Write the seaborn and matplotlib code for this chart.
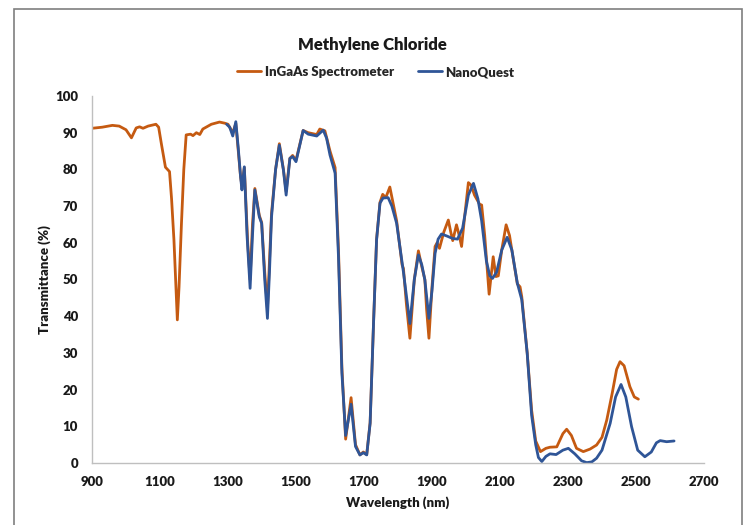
import matplotlib
matplotlib.use("Agg")
import matplotlib.pyplot as plt
import seaborn as sns
import pandas as pd
from matplotlib.patches import Rectangle
from matplotlib.lines import Line2D

# ---------------- data ----------------
ingaas_nm = [900, 930, 960, 980, 1000, 1016, 1030, 1040, 1050, 1065, 1088, 1096, 1104, 1116, 1128, 1134,
             1141, 1146, 1151, 1156, 1163, 1170, 1177, 1190, 1197, 1207, 1217, 1226, 1251, 1275, 1290, 1300,
             1314, 1323, 1337, 1341, 1348, 1358, 1365, 1372, 1379, 1392, 1399, 1408, 1416, 1422, 1428, 1440,
             1451, 1463, 1471, 1482, 1490, 1500, 1521, 1536, 1561, 1570, 1585, 1600, 1615, 1625, 1635, 1646,
             1662, 1675, 1688, 1698, 1708, 1718, 1728, 1737, 1747, 1755, 1764, 1776, 1796, 1812, 1816, 1825,
             1835, 1848, 1860, 1870, 1879, 1884, 1891, 1900, 1909, 1915, 1922, 1935, 1948, 1955, 1961, 1972,
             1980, 1987, 1997, 2007, 2015, 2025, 2040, 2046, 2055, 2068, 2075, 2080, 2088, 2095, 2105, 2118,
             2128, 2140, 2151, 2159, 2164, 2180, 2193, 2205, 2219, 2235, 2247, 2267, 2285, 2296, 2310, 2325,
             2345, 2365, 2384, 2400, 2414, 2430, 2443, 2453, 2465, 2482, 2495, 2507]
ingaas_t = [91.2, 91.5, 92.0, 91.8, 90.8, 88.6, 91.3, 91.6, 91.2, 91.8, 92.3, 91.5, 87.0, 80.6, 79.4, 72.0,
            60.8, 50.0, 39.0, 48.0, 65.0, 80.0, 89.4, 89.6, 89.2, 90.0, 89.5, 91.0, 92.3, 92.9, 92.6, 92.3,
            90.0, 92.5, 78.0, 75.5, 80.5, 60.0, 50.0, 65.0, 74.8, 67.5, 65.5, 52.0, 42.0, 55.0, 68.0, 80.0,
            87.0, 80.0, 74.0, 83.0, 83.8, 82.5, 90.6, 90.0, 89.5, 91.0, 90.5, 85.0, 80.5, 58.0, 26.0, 6.5,
            17.8, 5.0, 2.2, 3.0, 2.3, 11.0, 38.0, 61.0, 71.0, 73.2, 72.3, 75.2, 66.0, 54.0, 53.0, 43.0,
            34.0, 50.0, 57.8, 53.5, 50.0, 42.0, 34.0, 48.0, 59.0, 60.0, 58.5, 63.0, 66.2, 63.0, 60.6, 64.9,
            62.0, 59.0, 68.0, 76.4, 75.7, 73.0, 70.5, 70.3, 62.0, 46.0, 52.0, 56.2, 50.8, 51.0, 58.0, 64.9,
            62.0, 55.0, 48.8, 48.0, 45.3, 30.0, 14.4, 6.0, 3.1, 4.0, 4.3, 4.4, 8.0, 9.2, 7.5, 4.0,
            3.1, 3.8, 4.9, 7.0, 11.7, 19.0, 25.5, 27.6, 26.5, 20.8, 18.0, 17.4]

nano_nm = [1296, 1305, 1314, 1323, 1330, 1337, 1341, 1348, 1356, 1365, 1372, 1379, 1392, 1399, 1408, 1416,
           1422, 1428, 1440, 1451, 1463, 1471, 1482, 1490, 1500, 1521, 1536, 1561, 1580, 1590, 1600, 1615,
           1625, 1635, 1646, 1662, 1675, 1688, 1698, 1708, 1718, 1728, 1737, 1747, 1756, 1771, 1782, 1796,
           1816, 1835, 1848, 1860, 1870, 1879, 1891, 1900, 1909, 1918, 1928, 1945, 1960, 1975, 1990, 2007,
           2022, 2035, 2046, 2060, 2070, 2078, 2090, 2105, 2121, 2135, 2151, 2164, 2180, 2193, 2205, 2213,
           2223, 2235, 2247, 2265, 2285, 2301, 2320, 2340, 2355, 2370, 2384, 2400, 2424, 2440, 2456, 2470,
           2487, 2505, 2526, 2545, 2560, 2571, 2590, 2612]
nano_t = [92.3, 91.5, 89.1, 93.0, 86.0, 78.0, 74.4, 80.7, 62.0, 47.6, 62.0, 74.4, 67.1, 65.3, 50.0, 39.4,
          52.0, 67.0, 80.0, 86.6, 79.8, 73.0, 83.0, 83.5, 82.1, 90.6, 89.6, 89.1, 90.7, 88.5, 83.9, 79.0,
          56.0, 24.5, 7.5, 16.0, 4.5, 2.2, 2.8, 2.2, 10.8, 38.0, 60.8, 70.8, 72.2, 72.3, 70.0, 65.3,
          52.0, 38.0, 50.0, 56.7, 54.0, 49.9, 39.4, 47.0, 57.1, 61.0, 62.4, 61.8, 61.2, 61.0, 64.0, 73.0,
          76.2, 72.0, 66.0, 55.0, 51.0, 50.3, 52.0, 58.0, 61.5, 58.0, 49.0, 44.5, 29.9, 13.0, 5.0, 1.5,
          0.4, 1.8, 2.5, 2.3, 3.5, 4.0, 2.5, 0.6, 0.1, 0.3, 1.3, 3.5, 10.8, 18.0, 21.4, 18.0,
          9.9, 3.5, 1.7, 3.0, 5.5, 6.1, 5.8, 6.0]

series_names = ["InGaAs Spectrometer", "NanoQuest"]
x_ticks = [900, 1100, 1300, 1500, 1700, 1900, 2100, 2300, 2500, 2700]
y_ticks = [0, 10, 20, 30, 40, 50, 60, 70, 80, 90, 100]

# ---------------- style ----------------
sns.set_theme(style="white")
plt.rcParams["font.family"] = ["Lato", "DejaVu Sans"]
TXT = "#1a1a1a"

df = pd.concat([
    pd.DataFrame({"Wavelength": ingaas_nm, "T": ingaas_t, "Series": series_names[0]}),
    pd.DataFrame({"Wavelength": nano_nm, "T": nano_t, "Series": series_names[1]}),
], ignore_index=True)

fig = plt.figure(figsize=(7.53, 5.25), dpi=100)
ax = fig.add_axes([92 / 753, 1 - 463 / 525, (704 - 92) / 753, (463 - 96) / 525])

palette = {series_names[0]: "#C55A11", series_names[1]: "#2F5597"}
sns.lineplot(data=df, x="Wavelength", y="T", hue="Series", palette=palette,
             sort=False, estimator=None, linewidth=2.0, ax=ax, legend=False)

ax.set_xlim(900, 2700)
ax.set_ylim(0, 100)
ax.set_xticks(x_ticks)
ax.set_yticks(y_ticks)
ax.set_xticklabels([str(v) for v in x_ticks], fontsize=9.5, fontweight="heavy", color=TXT)
ax.set_yticklabels([str(v) for v in y_ticks], fontsize=9.5, fontweight="heavy", color=TXT)
ax.tick_params(axis="x", length=0, pad=9)
ax.tick_params(axis="y", length=0, pad=10)
for s in ["top", "right"]:
    ax.spines[s].set_visible(False)
for s in ["left", "bottom"]:
    ax.spines[s].set_color("#BFBFBF")
    ax.spines[s].set_linewidth(1.0)
ax.set_xlabel("Wavelength (nm)", fontsize=9.5, fontweight="heavy", color=TXT, labelpad=6)
ax.set_ylabel("Transmittance (%)", fontsize=9.5, fontweight="heavy", color=TXT, labelpad=3)

fig.text(372 / 753, 1 - 45 / 525, "Methylene Chloride", ha="center", va="center",
         fontsize=12, fontweight="heavy", color=TXT)

handles = [Line2D([], [], color=palette[n], linewidth=2.0) for n in series_names]
fig.legend(handles, series_names, loc="center", bbox_to_anchor=(376 / 753, 1 - 72 / 525),
           ncol=2, frameon=False, handlelength=1.8, handletextpad=0.3, columnspacing=1.8,
           prop={"size": 9.5, "weight": "heavy"})

fig.patches.append(Rectangle((14 / 753, -0.05), (742 - 14) / 753, 1.05 - 9 / 525,
                             transform=fig.transFigure, fill=False, edgecolor="#7F7F7F",
                             linewidth=1.2, zorder=0))

fig.savefig("out.png", dpi=100)
